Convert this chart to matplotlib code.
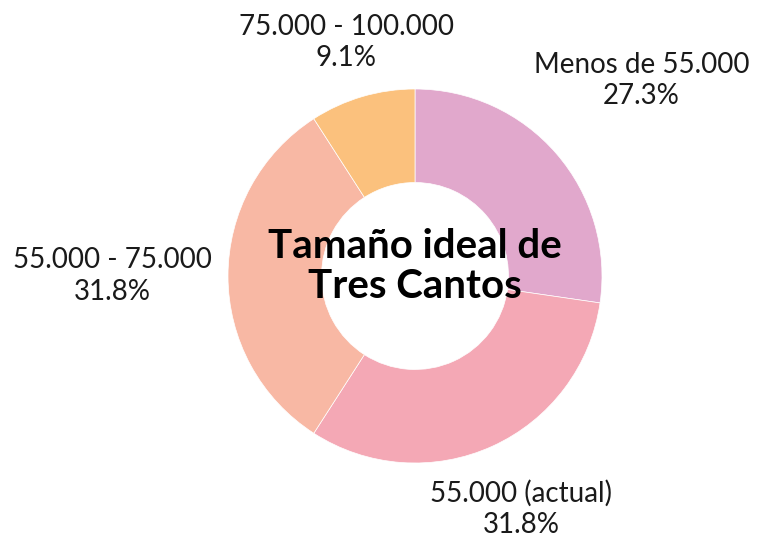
import numpy as np
import matplotlib
matplotlib.use("Agg")
import matplotlib.pyplot as plt

# data
categories = ["Menos de 55.000", "55.000 (actual)", "55.000 - 75.000", "75.000 - 100.000"]
shares = [27.3, 31.8, 31.8, 9.1]
colors = ["#e1a8cc", "#f4a8b5", "#f8b8a4", "#fbc17d"]
title = "Tamaño ideal de\nTres Cantos"

# layout (pixels of the 758x537 canvas)
W, H = 758, 537
cx, cy, r_px = 415, 276, 187
label_dist = [1.60, 1.37, 1.62, 1.30]

plt.rcParams["font.family"] = ["Lato", "DejaVu Sans"]

fig = plt.figure(figsize=(W / 100, H / 100), dpi=100)
ax = fig.add_axes([0, 0, 1, 1])

ax.pie(shares, colors=colors, startangle=90, counterclock=False,
       radius=1, wedgeprops=dict(width=0.5, edgecolor="white", linewidth=0.5))

# label positions from the slice mid-angles
fracs = np.array(shares) / sum(shares)
ends = np.cumsum(fracs)
mids = ends - fracs / 2
for name, s, m, d in zip(categories, shares, mids, label_dist):
    ang = np.deg2rad(90 - m * 360)
    ax.text(d * np.cos(ang), d * np.sin(ang), f"{name}\n{s}%",
            ha="center", va="center", fontsize=20, color="#1a1a1a",
            linespacing=1.25)

ax.text(0.0, 0.05, title, ha="center", va="center", fontsize=29,
        fontweight="bold", color="black", linespacing=1.12)

ax.set_xlim(-cx / r_px, (W - cx) / r_px)
ax.set_ylim(-(H - cy) / r_px, cy / r_px)
ax.set_aspect("equal")
ax.axis("off")

fig.savefig("out.png", dpi=100, facecolor="white")
plt.close(fig)
